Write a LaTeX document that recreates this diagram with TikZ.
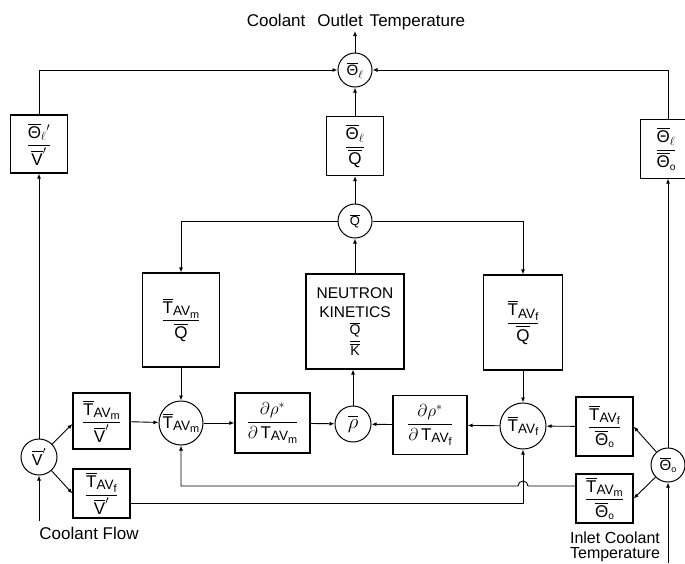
\documentclass[tikz,border=0pt]{standalone}
\usepackage{fontspec}
\setmainfont{Liberation Sans}
\usepackage{amsmath}
\usetikzlibrary{arrows.meta,calc}
\makeatletter
\newcommand{\scl}[2]{{\fontsize{\strip@pt\dimexpr\f@size pt*#1/100\relax}{0pt}\selectfont #2}}
\makeatother
\newcommand{\TAV}[1]{$\overline{\text{T}}$\raisebox{-0.25ex}{\scl{80}{AV\raisebox{-0.35ex}{\scl{80}{#1}}}}}
\newcommand{\TAVn}[1]{T\raisebox{-0.25ex}{\scl{80}{AV\raisebox{-0.35ex}{\scl{80}{#1}}}}}
\newcommand{\ThO}{$\overline{\text{Θ}}$\raisebox{-0.3ex}{\scl{60}{o}}}
\newcommand{\ThL}{$\overline{\text{Θ}}_{\ell}$}
\newcommand{\Vp}{$\overline{\text{V}}'$}
\newcommand{\Qb}{$\overline{\text{Q}}$}
\newcommand{\fr}[2]{$\dfrac{\text{#1}}{\text{#2}}$}
\tikzset{
  blk/.style={draw, line width=1.2pt, inner sep=0pt, font=\fontsize{17}{20}\selectfont},
  sum/.style={circle, draw, line width=1pt, inner sep=0pt},
  arr/.style={-{Latex[length=5pt,width=4pt]}, line width=0.9pt},
  lbl/.style={font=\fontsize{17}{17}\selectfont, inner sep=0pt}
}
\begin{document}
\begin{tikzpicture}[x=1pt,y=-1pt]
\useasboundingbox (0,0) rectangle (685,563);
% labels
\node[lbl] (title) at (356,22) {Coolant\hspace{12pt}Outlet\hspace{7pt}Temperature};
\node[lbl] (flow) at (89,533) {Coolant Flow};
\node[lbl, align=center, font=\fontsize{16}{15}\selectfont] (inlet) at (615,547) {Inlet Coolant\\Temperature};
% summing circles
\node[sum, minimum size=34pt, font=\fontsize{15}{15}\selectfont] (cThL) at (355,70) {\ThL};
\node[sum, minimum size=34pt, font=\fontsize{13}{13}\selectfont] (cQ) at (355,221) {\Qb};
\node[sum, minimum size=36pt, font=\fontsize{16}{16}\selectfont] (cV) at (39,457) {\Vp};
\node[sum, minimum size=44pt, font=\fontsize{17}{17}\selectfont] (cTm) at (181,423) {\TAV{m}};
\node[sum, minimum size=36pt, font=\fontsize{22}{22}\selectfont] (crho) at (353,424) {$\overline{\rho}$};
\node[sum, minimum size=46pt, font=\fontsize{17}{17}\selectfont] (cTf) at (523,426) {\TAV{f}};
\node[sum, minimum size=34pt, font=\fontsize{15}{15}\selectfont] (cThO) at (668,465) {\ThO};
% blocks
\node[blk, minimum width=57pt, minimum height=59pt] (bThLQ) at (355,146) {\fr{\ThL}{\Qb}};
\node[blk, minimum width=57pt, minimum height=58pt] (bThLV) at (39,144) {\fr{$\overline{\text{Θ}}_{\ell}{}'$}{\Vp}};
\node[blk, draw=none, minimum width=44pt, minimum height=58pt] (bThLO) at (663,149) {\hspace{6pt}\fr{\ThL}{\ThO}};
\draw[line width=1.2pt] (bThLO.north east) -- (bThLO.north west) -- (bThLO.south west) -- (bThLO.south east);
\node[blk, minimum width=77pt, minimum height=94pt] (bTmQ) at (181,320) {\fr{\TAV{m}}{\Qb}};
\node[blk, minimum width=98pt, minimum height=95pt, align=center, font=\fontsize{15.5}{19}\selectfont] (neutron) at (355,321.5) {NEUTRON\\KINETICS\\[4pt]{\fontsize{14}{15}\selectfont\fr{\Qb}{$\overline{\text{K}}$}}};
\node[blk, minimum width=79pt, minimum height=95pt] (bTfQ) at (523,322.5) {\fr{\TAV{f}}{\Qb}};
\node[blk, minimum width=57pt, minimum height=56pt] (bTmV) at (101.5,421) {\fr{\TAV{m}}{\Vp}};
\node[blk, minimum width=57pt, minimum height=49pt] (bTfV) at (101.5,493.5) {\fr{\TAV{f}}{\Vp}};
\node[blk, minimum width=75pt, minimum height=60pt] (bDm) at (272.5,423) {$\dfrac{\partial\rho^{*}}{\partial\,\text{\TAVn{m}}}$};
\node[blk, minimum width=74pt, minimum height=59pt] (bDf) at (430,425) {$\dfrac{\partial\rho^{*}}{\partial\,\text{\TAVn{f}}}$};
\node[blk, minimum width=57pt, minimum height=59pt] (bTfT) at (604.5,426.5) {\fr{\TAV{f}}{\ThO}};
\node[blk, minimum width=57pt, minimum height=49pt] (bTmT) at (604.5,498.5) {\fr{\TAV{m}}{\ThO}};
% coordinates
\coordinate (outT) at (355,31);
\coordinate (inV) at (39,521);
\coordinate (inO) at (668,563);
\coordinate (fbA) at ([yshift=12.5pt]bTmT.west);
\coordinate (hopR) at ($(cTf |- fbA)+(5,0)$);
% connectors - top
\draw[arr] (cThL) -- (outT);
\draw[arr] (bThLV.north) |- (cThL);
\draw[arr] (cThO |- bThLO.north) |- (cThL);
\draw[arr] (bThLQ) -- (cThL);
\draw[arr] (cQ) -- (bThLQ);
\draw[arr] (cV) -- (cV |- bThLV.south);
\draw[arr] (cThO) -- (cThO |- bThLO.south);
% Q distribution
\draw[arr] (neutron) -- (cQ);
\draw[arr] (cQ) -| (bTmQ);
\draw[arr] (cQ) -| (bTfQ);
\draw[arr] (bTmQ) -- (cTm);
\draw[arr] (bTfQ) -- (cTf);
% reactivity row
\draw[arr] (bTmV) -- (cTm);
\draw[arr] (cTm) -- (bDm);
\draw[arr] (bDm) -- (crho);
\draw[arr] (bDf) -- (crho);
\draw[arr] (cTf) -- (bDf);
\draw[arr] (bTfT) -- (cTf);
\draw[arr] (crho) -- (crho |- neutron.south);
% inputs
\draw[arr] (inV) -- (cV);
\draw[arr] (inO) -- (cThO);
\draw[arr] (cV) -- ([yshift=-3pt]bTmV.west);
\draw[arr] (cV) -- (bTfV.west);
\draw[arr] (cThO) -- (bTfT.east);
\draw[arr] (cThO) -- (bTmT.east);
% feedback lines
\draw[arr] (fbA) -- (hopR) arc[start angle=0, end angle=180, radius=5pt] -| (cTm.south);
\draw[arr] ([yshift=-9.5pt]bTfV.east) -| (cTf.south);
\end{tikzpicture}
\end{document}
